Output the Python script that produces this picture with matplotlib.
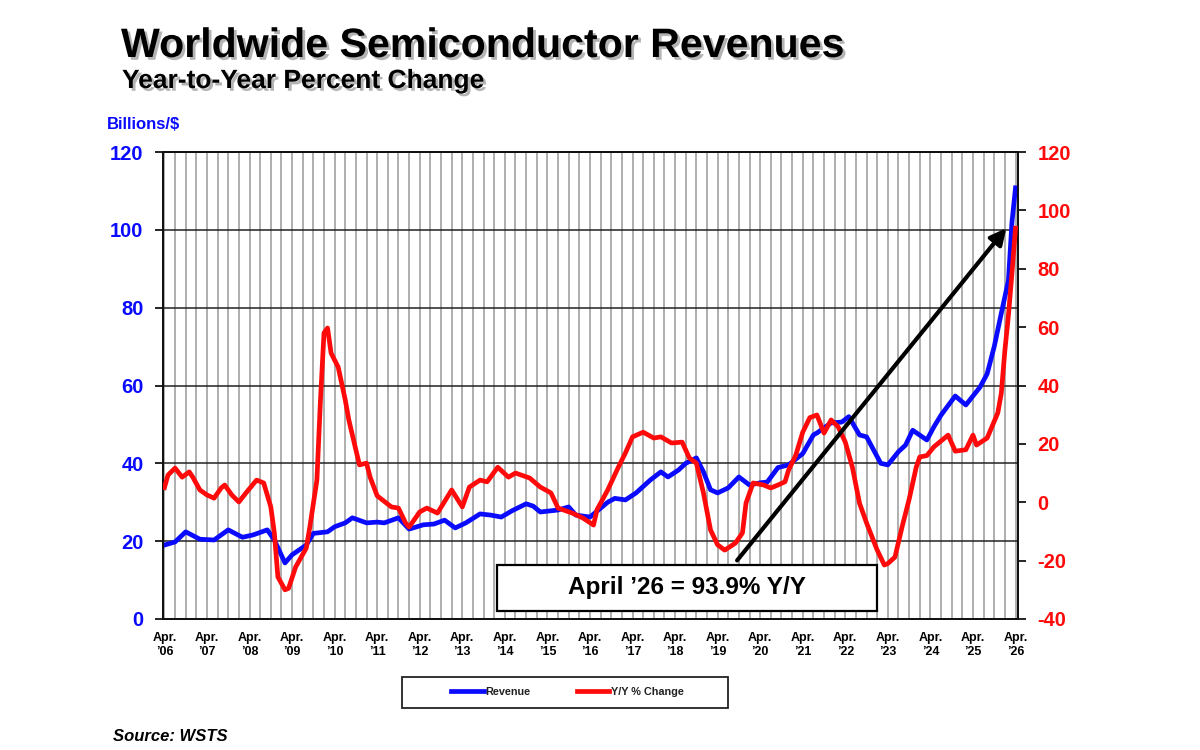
import numpy as np
import pandas as pd
import matplotlib
matplotlib.use('Agg')
import matplotlib.pyplot as plt
import matplotlib.patheffects as pe
from matplotlib.patches import Rectangle
from matplotlib.lines import Line2D

plt.rcParams['font.family'] = ['Liberation Sans', 'DejaVu Sans']
plt.rcParams['axes.unicode_minus'] = False

# revenue, billions $ (3-month average)
rev_dates = ["2006-04", "2006-07", "2006-10", "2007-02", "2007-06", "2007-10", "2008-02", "2008-05",
             "2008-09", "2008-11", "2009-02", "2009-04", "2009-08", "2009-10", "2010-02", "2010-04",
             "2010-07", "2010-09", "2011-01", "2011-04", "2011-06", "2011-10", "2012-01", "2012-05",
             "2012-08", "2012-11", "2013-02", "2013-05", "2013-09", "2013-12", "2014-03", "2014-06",
             "2014-10", "2014-12", "2015-02", "2015-07", "2015-10", "2015-12", "2016-04", "2016-09",
             "2016-11", "2017-02", "2017-05", "2017-09", "2017-12", "2018-02", "2018-05", "2018-07",
             "2018-10", "2018-12", "2019-02", "2019-04", "2019-07", "2019-10", "2020-01", "2020-04",
             "2020-06", "2020-09", "2020-12", "2021-04", "2021-07", "2021-08", "2021-12", "2022-03",
             "2022-05", "2022-08", "2022-10", "2023-02", "2023-04", "2023-07", "2023-09", "2023-11",
             "2024-03", "2024-05", "2024-07", "2024-11", "2025-02", "2025-06", "2025-08", "2025-10",
             "2025-12", "2026-02", "2026-03", "2026-04"]
rev_vals = [19.0, 19.8, 22.4, 20.5, 20.3, 22.9, 21.0, 21.6,
            22.9, 20.3, 14.4, 16.5, 19.0, 22.0, 22.4, 23.7,
            24.7, 26.0, 24.7, 24.9, 24.7, 26.0, 23.1, 24.2,
            24.4, 25.4, 23.4, 24.7, 27.0, 26.7, 26.2, 27.8,
            29.6, 29.0, 27.5, 28.0, 28.8, 26.7, 26.2, 30.0,
            31.0, 30.6, 32.4, 35.7, 37.8, 36.5, 38.3, 40.0,
            41.4, 37.8, 33.2, 32.4, 33.7, 36.5, 34.4, 35.0,
            35.2, 38.9, 39.6, 42.5, 47.3, 47.8, 50.4, 50.6,
            52.0, 47.3, 46.8, 40.0, 39.6, 43.0, 44.7, 48.5,
            46.0, 49.4, 52.4, 57.3, 55.0, 59.6, 63.0, 70.0,
            78.6, 87.0, 102.0, 110.8]

# year-to-year percent change
yoy_dates = ["2006-04", "2006-05", "2006-07", "2006-09", "2006-11", "2006-12", "2007-02", "2007-04",
             "2007-06", "2007-08", "2007-09", "2007-11", "2008-01", "2008-03", "2008-06", "2008-08",
             "2008-10", "2008-11", "2008-12", "2009-02", "2009-03", "2009-05", "2009-08", "2009-09",
             "2009-11", "2009-12", "2010-01", "2010-02", "2010-03", "2010-05", "2010-07", "2010-08",
             "2010-10", "2010-11", "2011-01", "2011-02", "2011-04", "2011-08", "2011-10", "2011-12",
             "2012-01", "2012-04", "2012-06", "2012-09", "2013-01", "2013-04", "2013-06", "2013-09",
             "2013-11", "2014-02", "2014-05", "2014-07", "2014-11", "2015-02", "2015-05", "2015-07",
             "2015-11", "2016-02", "2016-05", "2016-06", "2016-07", "2016-09", "2016-12", "2017-02",
             "2017-04", "2017-07", "2017-10", "2017-12", "2018-03", "2018-06", "2018-08", "2018-10",
             "2018-12", "2019-02", "2019-04", "2019-06", "2019-09", "2019-11", "2019-12", "2020-02",
             "2020-05", "2020-07", "2020-09", "2020-11", "2020-12", "2021-02", "2021-04", "2021-06",
             "2021-08", "2021-10", "2021-12", "2022-02", "2022-04", "2022-06", "2022-08", "2022-10",
             "2023-01", "2023-03", "2023-04", "2023-06", "2023-08", "2023-10", "2023-12", "2024-01",
             "2024-03", "2024-05", "2024-09", "2024-11", "2025-02", "2025-04", "2025-05", "2025-08",
             "2025-11", "2025-12", "2026-01", "2026-02", "2026-03", "2026-04"]
yoy_vals = [5.0, 9.3, 11.7, 8.6, 10.4, 8.6, 4.2, 2.5,
            1.4, 4.9, 5.9, 2.5, 0.1, 3.2, 7.6, 6.6,
            -1.6, -10.5, -25.6, -30.0, -29.5, -22.2, -15.7, -8.5,
            7.6, 35.0, 58.0, 59.7, 51.1, 46.3, 35.0, 28.2,
            17.9, 12.8, 13.4, 8.6, 2.2, -1.6, -2.0, -7.1,
            -8.5, -3.3, -2.0, -3.7, 4.2, -1.6, 5.2, 7.6,
            7.0, 12.0, 8.6, 10.0, 8.3, 5.2, 3.2, -2.0,
            -3.7, -5.4, -7.8, -2.5, -0.3, 4.2, 12.0, 16.9,
            22.4, 24.0, 22.0, 22.4, 20.3, 20.6, 15.2, 13.4,
            3.2, -9.5, -14.6, -16.4, -14.0, -10.5, -0.3, 6.6,
            5.9, 4.9, 5.9, 7.0, 11.0, 16.0, 24.0, 29.0,
            29.9, 23.7, 28.2, 25.8, 20.6, 12.0, -0.3, -7.1,
            -16.4, -21.5, -21.0, -18.8, -8.5, 1.0, 12.0, 15.5,
            16.0, 19.0, 23.0, 17.5, 18.0, 23.0, 19.6, 22.0,
            30.6, 37.4, 52.0, 64.0, 78.5, 93.9]

tick_years = list(range(2006, 2027))
tick_labels = ["Apr.\n\u2019%02d" % (y % 100) for y in tick_years]


def month_index(dates):
    p = pd.PeriodIndex(dates, freq='M')
    return (p.year - 2006) * 12 + (p.month - 4)


rev_x = month_index(rev_dates)
yoy_x = month_index(yoy_dates)

BLUE = '#0a0aff'
RED = '#ff0a0a'

fig = plt.figure(figsize=(12, 7.5), dpi=100)
ax = fig.add_axes([163/1200, 131/750, 855/1200, 467/750])
ax2 = ax.twinx()

ax.plot(rev_x, rev_vals, color=BLUE, lw=3.4, solid_joinstyle='round', zorder=3)
ax2.plot(yoy_x, yoy_vals, color=RED, lw=3.4, solid_joinstyle='round', zorder=3)

ax.set_xlim(-0.4, 240.7)
ax.set_ylim(0, 120)
ax2.set_ylim(-40, 120)

ax.set_xticks([(y - 2006) * 12 for y in tick_years])
ax.set_xticklabels(tick_labels, fontsize=9, fontweight='bold', linespacing=1.3)
ax.set_xticks(range(0, 241, 3), minor=True)
ax.tick_params(axis='x', which='both', length=0, pad=9)
ax.grid(axis='x', which='both', color='#a8a8a8', lw=1.3)

ax.set_yticks(range(0, 121, 20))
ax.tick_params(axis='y', length=6, width=1.2, pad=8, labelsize=14.5, labelcolor=BLUE)
for t in ax.get_yticklabels():
    t.set_fontweight('bold')
ax.grid(axis='y', color='#222222', lw=1.1)

ax2.set_yticks(range(-40, 121, 20))
ax2.tick_params(axis='y', length=6, width=1.2, pad=8, labelsize=14.5, labelcolor=RED)
for t in ax2.get_yticklabels():
    t.set_fontweight('bold')

for a in (ax, ax2):
    for s in a.spines.values():
        s.set_linewidth(1.3)
        s.set_color('#111111')

# arrow pointing at the latest value, drawn on the top axes so it sits over both lines
ax2.annotate('', xy=(237.9, 101.0 / 120 * 160 - 40), xytext=(161.0, 14.5 / 120 * 160 - 40),
             arrowprops=dict(arrowstyle='-|>', lw=3, color='black', mutation_scale=24),
             zorder=6)

ax2.add_patch(Rectangle((0.3906, 0.0171), 0.4444, 0.0985, transform=ax2.transAxes,
                        facecolor='white', edgecolor='black', lw=1.6, zorder=7))
ax2.text(0.6129, 0.0664, 'April \u201926 = 93.9% Y/Y', transform=ax2.transAxes,
         ha='center', va='center', fontsize=17.5, fontweight='bold', zorder=8)

shadow = [pe.withSimplePatchShadow(offset=(2, -2), shadow_rgbFace='#777777', alpha=0.55)]
fig.text(121/1200, 1 - 57/750, 'Worldwide Semiconductor Revenues', fontsize=29.6,
         fontweight='bold', ha='left', va='baseline', path_effects=shadow)
fig.text(122/1200, 1 - 88/750, 'Year-to-Year Percent Change', fontsize=19,
         fontweight='bold', ha='left', va='baseline', path_effects=shadow)
fig.text(107/1200, 1 - 129/750, 'Billions/$', fontsize=12, fontweight='bold',
         color=BLUE, ha='left', va='baseline')
fig.text(113/1200, 1 - 741/750, 'Source: WSTS', fontsize=12, fontweight='bold',
         style='italic', ha='left', va='baseline')

# legend
fig.add_artist(Rectangle((402/1200, 1 - 708/750), 326/1200, 31/750, transform=fig.transFigure,
                         facecolor='white', edgecolor='#222222', lw=1.3))
handles = [Line2D([], [], color=BLUE, lw=3.4), Line2D([], [], color=RED, lw=3.4)]
fig.legend(handles, ['Revenue', 'Y/Y % Change'], loc='center left',
           bbox_to_anchor=(451/1200, 1 - 692/750), ncol=2, frameon=False,
           borderpad=0, borderaxespad=0, handlelength=3.0, handletextpad=0.15,
           columnspacing=4.3, prop={'size': 7.8, 'weight': 'bold'}, labelcolor='#222222')

fig.savefig('out.png', dpi=100)
